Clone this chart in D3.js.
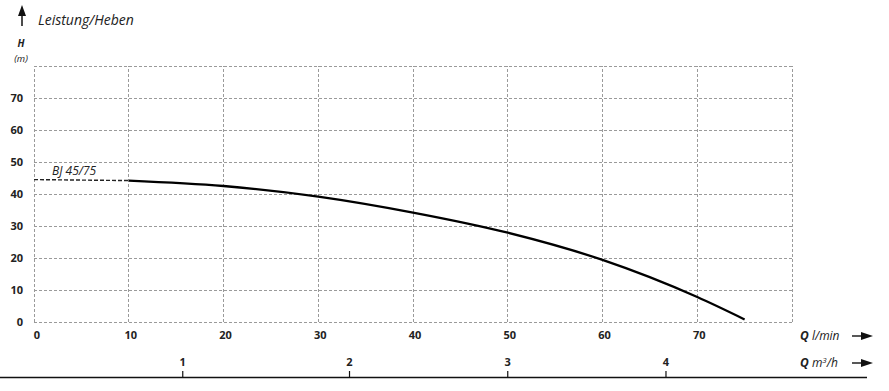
<!DOCTYPE html>
<html>
<head>
<meta charset="utf-8">
<script src="https://cdn.jsdelivr.net/npm/d3@7"></script>
<style>
  html, body { margin: 0; padding: 0; background: #fff; }
  svg { display: block; font-family: "Open Sans", "Noto Sans", sans-serif; }
</style>
</head>
<body>
<div id="chart"></div>
<script>
// Pump curve BJ 45/75
const flowLmin = [10, 20, 30, 40, 50, 60, 70, 75];
const headM = [44.2, 42.5, 39.2, 34.2, 27.9, 19.4, 7.8, 0.8];
// dashed lead-in of the curve
const dashFlow = [0, 10];
const dashHead = [44.5, 44.2];

const xTicks = [0, 10, 20, 30, 40, 50, 60, 70];
const yTicks = [0, 10, 20, 30, 40, 50, 60, 70];
// m3/h tick labels and where they sit on the l/min scale
const m3hLabels = ["1", "2", "3", "4"];
const m3hAtLmin = [15.7, 33.3, 50, 66.7];

const seriesName = "BJ 45/75";

const width = 889, height = 391;

const svg = d3.select("#chart").append("svg")
  .attr("width", width)
  .attr("height", height);

const x = d3.scaleLinear().domain([0, 80]).range([34, 792]);
const y = d3.scaleLinear().domain([0, 80]).range([322, 66]);

const gridColor = "#9a9a9a";

// grid
const grid = svg.append("g");
grid.selectAll("line.v")
  .data(d3.range(0, 90, 10))
  .enter().append("line")
  .attr("x1", d => x(d)).attr("x2", d => x(d))
  .attr("y1", y(0)).attr("y2", y(80))
  .attr("stroke", gridColor).attr("stroke-width", 1)
  .attr("stroke-dasharray", "3,2")
  .attr("shape-rendering", "crispEdges");
grid.selectAll("line.h")
  .data(d3.range(0, 90, 10))
  .enter().append("line")
  .attr("x1", x(0)).attr("x2", x(80))
  .attr("y1", d => y(d)).attr("y2", d => y(d))
  .attr("stroke", gridColor).attr("stroke-width", 1)
  .attr("stroke-dasharray", "3,2")
  .attr("shape-rendering", "crispEdges");

// y tick labels
svg.append("g").selectAll("text")
  .data(yTicks)
  .enter().append("text")
  .attr("x", 23)
  .attr("y", d => y(d) + 4)
  .attr("text-anchor", "end")
  .attr("font-size", 11)
  .attr("font-weight", "bold")
  .attr("fill", "#222")
  .text(d => d);

// x tick labels (l/min)
svg.append("g").selectAll("text")
  .data(xTicks)
  .enter().append("text")
  .attr("x", d => x(d) + (d === 0 ? 3 : 2))
  .attr("y", 339)
  .attr("text-anchor", "middle")
  .attr("font-size", 11)
  .attr("font-weight", "bold")
  .attr("fill", "#222")
  .text(d => d);

// second axis (m3/h)
svg.append("line")
  .attr("x1", 0).attr("x2", 867)
  .attr("y1", 377.5).attr("y2", 377.5)
  .attr("stroke", "#111").attr("stroke-width", 1.4);

const m3h = svg.append("g").selectAll("g")
  .data(m3hLabels.map((l, i) => ({ label: l, at: m3hAtLmin[i] })))
  .enter().append("g");
m3h.append("line")
  .attr("x1", d => x(d.at)).attr("x2", d => x(d.at))
  .attr("y1", 371).attr("y2", 377)
  .attr("stroke", "#111").attr("stroke-width", 1.2);
m3h.append("text")
  .attr("x", d => x(d.at))
  .attr("y", 366)
  .attr("text-anchor", "middle")
  .attr("font-size", 11)
  .attr("font-weight", "bold")
  .attr("fill", "#222")
  .text(d => d.label);

// axis names on the right
function axisName(yPos, unit, sup) {
  const t = svg.append("text")
    .attr("x", 800).attr("y", yPos)
    .attr("font-size", 12)
    .attr("fill", "#222");
  t.append("tspan").attr("font-weight", "bold").attr("font-style", "italic").text("Q ");
  t.append("tspan").attr("font-style", "italic").text(unit);
  if (sup) {
    t.append("tspan").attr("font-style", "italic").attr("font-size", 8).attr("dy", -4).text(sup);
    t.append("tspan").attr("font-style", "italic").attr("dy", 4).text("/h");
  }
}
axisName(340, "l/min");
axisName(367, "m", "3");

function arrowRight(yPos) {
  svg.append("line")
    .attr("x1", 852).attr("x2", 864)
    .attr("y1", yPos).attr("y2", yPos)
    .attr("stroke", "#111").attr("stroke-width", 1.4);
  svg.append("path")
    .attr("d", `M861,${yPos - 4} L873,${yPos} L861,${yPos + 4} Z`)
    .attr("fill", "#111");
}
arrowRight(336);
arrowRight(363);

// y axis title
svg.append("line")
  .attr("x1", 22).attr("x2", 22)
  .attr("y1", 14).attr("y2", 26)
  .attr("stroke", "#111").attr("stroke-width", 1.5);
svg.append("path")
  .attr("d", "M18,16 L22,5 L26,16 Z")
  .attr("fill", "#111");
svg.append("text")
  .attr("x", 38).attr("y", 25)
  .attr("font-size", 14)
  .attr("font-style", "italic")
  .attr("fill", "#222")
  .text("Leistung/Heben");
svg.append("text")
  .attr("x", 21).attr("y", 47)
  .attr("text-anchor", "middle")
  .attr("font-size", 10)
  .attr("font-weight", "bold")
  .attr("font-style", "italic")
  .attr("fill", "#222")
  .text("H");
svg.append("text")
  .attr("x", 21).attr("y", 62)
  .attr("text-anchor", "middle")
  .attr("font-size", 9.5)
  .attr("font-style", "italic")
  .attr("fill", "#222")
  .text("(m)");

// curve
const line = d3.line()
  .x(d => x(d[0]))
  .y(d => y(d[1]))
  .curve(d3.curveMonotoneX);

svg.append("path")
  .datum(dashFlow.map((f, i) => [f, dashHead[i]]))
  .attr("d", line)
  .attr("fill", "none")
  .attr("stroke", "#222")
  .attr("stroke-width", 1.4)
  .attr("stroke-dasharray", "4,2");

svg.append("path")
  .datum(flowLmin.map((f, i) => [f, headM[i]]))
  .attr("d", line)
  .attr("fill", "none")
  .attr("stroke", "#000")
  .attr("stroke-width", 2.3);

svg.append("text")
  .attr("x", 52).attr("y", 175)
  .attr("font-size", 12)
  .attr("font-style", "italic")
  .attr("fill", "#222")
  .text(seriesName);
</script>
</body>
</html>
